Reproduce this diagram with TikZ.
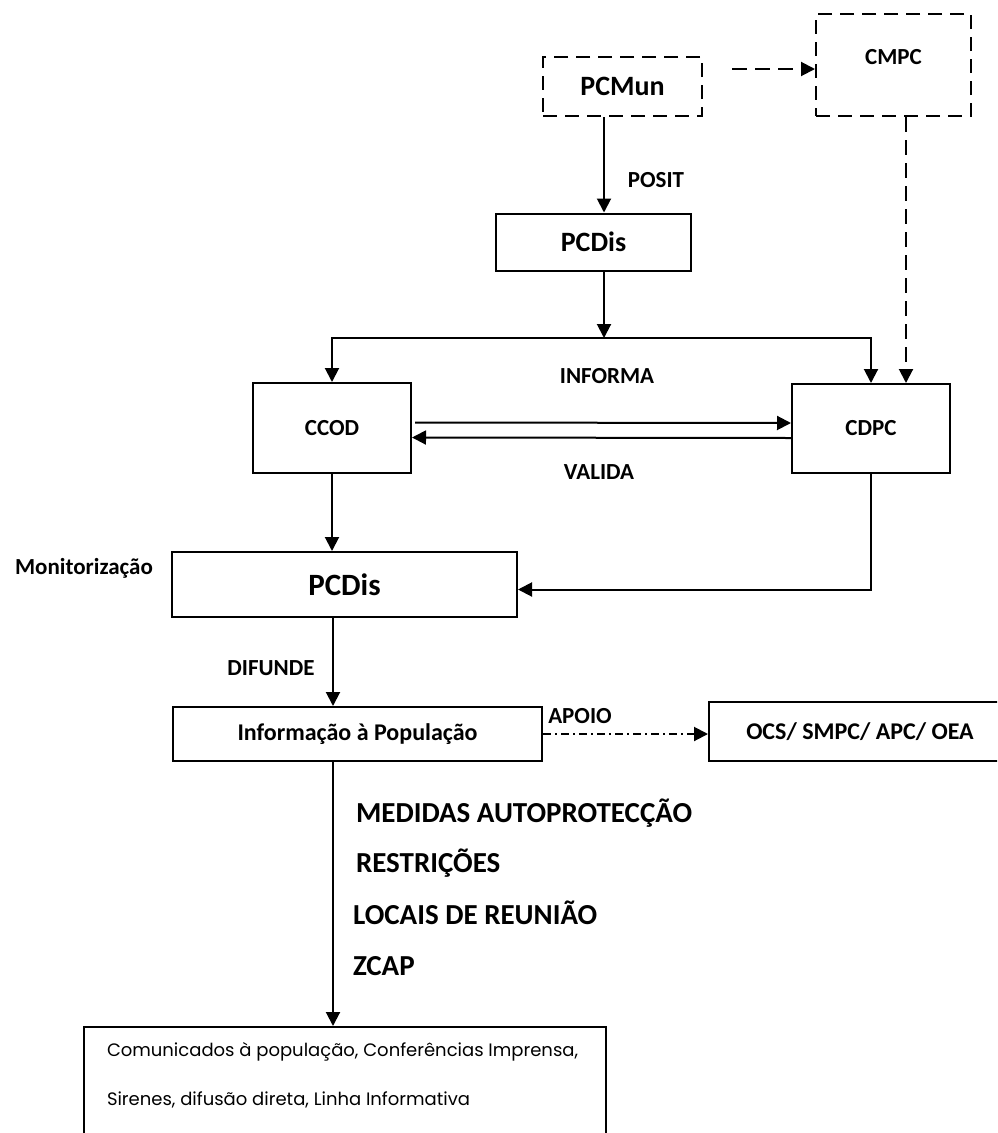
\documentclass[tikz,border=0pt]{standalone}
\usepackage{fontspec}
\setmainfont{Carlito}
\newfontfamily\gothic{Poppins}
\usetikzlibrary{arrows.meta}
\newcommand\sz[1]{\fontsize{#1}{#1}\selectfont\bfseries}
\begin{document}
\begin{tikzpicture}[x=1pt,y=-1pt,
  line width=2pt,
  >={Triangle[length=14pt,width=14pt]},
  box/.style={draw, rectangle, inner sep=0pt},
  dbox/.style={box, dash pattern=on 14pt off 8pt},
  lbl/.style={inner sep=0pt, font=\sz{23}},
  item/.style={anchor=base west, inner sep=0pt, font=\sz{29}},
  dashedline/.style={dash pattern=on 15pt off 8pt},
  dashdot/.style={dash pattern=on 8pt off 4pt on 2pt off 4pt}]
\clip (0,0) rectangle (997,1133);

% boxes
\node[dbox, minimum width=159pt, minimum height=59pt, font=\sz{28}] (pcmun) at (622.5,86.5) {PCMun};
\node[dbox, minimum width=155pt, minimum height=102pt] (cmpc) at (893.5,65) {};
\node[lbl] (cmpctext) at (893.5,57) {CMPC};
\node[box, minimum width=195pt, minimum height=57pt, font=\sz{28}] (pcdis1) at (593.5,242) {PCDis};
\node[box, minimum width=158pt, minimum height=90pt, font=\sz{23}] (ccod) at (332,428) {CCOD};
\node[box, minimum width=158pt, minimum height=89pt, font=\sz{23}] (cdpc) at (871,428.5) {CDPC};
\node[box, minimum width=345pt, minimum height=65pt, font=\sz{31}] (pcdis2) at (344.5,584.5) {PCDis};
\node[box, minimum width=369pt, minimum height=54pt, font=\sz{24}] (info) at (357.5,734) {Informação à População};
\node[box, minimum width=302pt, minimum height=59pt, font=\sz{24}] (ocs) at (860,731.5) {OCS/ SMPC/ APC/ OEA};
\node[box, minimum width=522pt, minimum height=133pt] (bottom) at (345,1093.5) {};
\node[anchor=west, inner sep=0pt, font=\gothic\fontsize{18}{18}\selectfont] (b1) at (106,1052) {Comunicados à população, Conferências Imprensa,};
\node[anchor=west, inner sep=0pt, font=\gothic\fontsize{18}{18}\selectfont] (b2) at (106,1100) {Sirenes, difusão direta, Linha Informativa};

% labels
\node[lbl] (posit) at (656,180) {POSIT};
\node[lbl] (informa) at (607,376) {INFORMA};
\node[lbl] (valida) at (599,472) {VALIDA};
\node[lbl] (monit) at (84,568) {Monitorização};
\node[lbl] (difunde) at (271,668) {DIFUNDE};
\node[lbl] (apoio) at (580,716) {APOIO};

\node[item] (m1) at (355,822) {MEDIDAS AUTOPROTECÇÃO};
\node[item] (m2) at (355,872) {RESTRIÇÕES};
\node[item] (m3) at (352,924) {LOCAIS DE REUNIÃO};
\node[item] (m4) at (352,975) {ZCAP};

% reference points for the connectors
\coordinate (spine) at (604,338);
\coordinate (cmx) at (906,0);
\coordinate (vline) at (333,0);
\coordinate (dashstart) at (732,69);

% connectors
\draw[->] (pcmun.south -| spine) -- (pcdis1.north -| spine);
\draw[->] (pcdis1.south -| spine) -- (spine);
\draw[<->] (ccod.north) |- (spine) -| (cdpc.north);
\draw[dashedline,->] (dashstart) -- (dashstart -| cmpc.west);
\draw[dashedline,->] (cmpc.south -| cmx) -- (cdpc.north -| cmx);
\draw[->] ([xshift=3pt,yshift=5.5pt]ccod.east) -- ([yshift=5.5pt]cdpc.west);
\draw[->] ([yshift=-9.5pt]cdpc.west) -- ([yshift=-9.5pt]ccod.east);
\draw[->] (ccod.south) -- (ccod.south |- pcdis2.north);
\draw[->] (cdpc.south) |- ([yshift=-5pt]pcdis2.east);
\draw[->] (pcdis2.south -| vline) -- (info.north -| vline);
\draw[dashdot,->] (info.east) -- (info.east -| ocs.west);
\draw[->] (info.south -| vline) -- (bottom.north -| vline);
\end{tikzpicture}
\end{document}
